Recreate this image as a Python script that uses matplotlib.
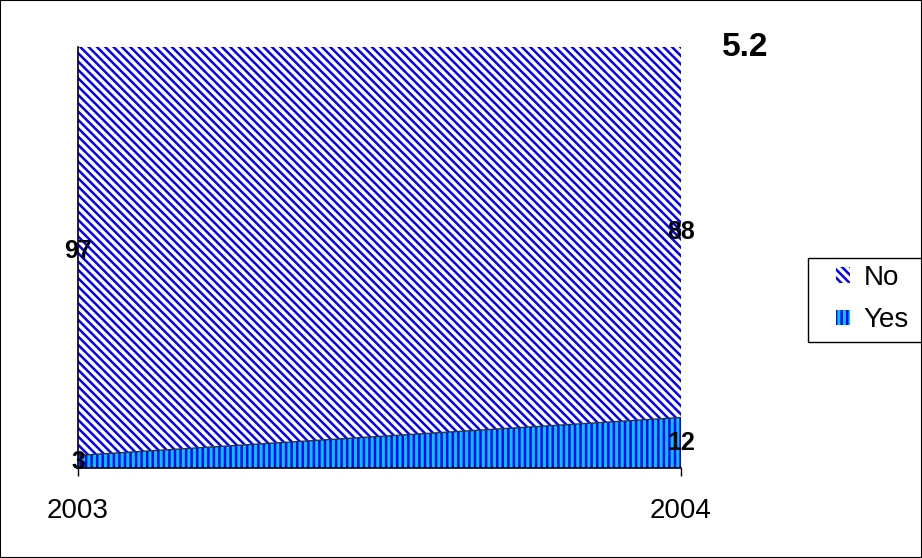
import matplotlib.pyplot as plt
import matplotlib.patches as mpatches

plt.rcParams['font.family'] = ['Liberation Sans', 'DejaVu Sans']

years = [2003, 2004]
yes_vals = [3, 12]
no_vals = [97, 88]
title = "5.2"

fig = plt.figure(figsize=(9.22, 5.58), dpi=100)
ax = fig.add_axes([78 / 922, 1 - 468 / 558, (681 - 78) / 922, (468 - 47) / 558])

yes_top = yes_vals
no_top = [y + n for y, n in zip(yes_vals, no_vals)]

# stacked 100% areas
plt.rcParams['hatch.linewidth'] = 1.8
ax.fill_between(years, 0, yes_top, facecolor='#00c8ff', edgecolor='#0000ff',
                hatch='|||', linewidth=0, label='Yes')
ax.fill_between(years, yes_top, no_top, facecolor='white', edgecolor='#0000ff',
                hatch='\\\\\\\\', linewidth=0, label='No')
ax.plot(years, yes_top, color='#333333', lw=1)

# data labels, centred in each band at the edges
for x, y, n in zip(years, yes_vals, no_vals):
    ax.text(x, y / 2, str(y), ha='center', va='center', fontsize=18,
            fontweight='bold', zorder=5)
    ax.text(x, y + n / 2, str(n), ha='center', va='center', fontsize=18,
            fontweight='bold', zorder=5)

ax.set_xlim(years[0], years[-1])
ax.set_ylim(0, 100)
ax.set_xticks(years)
ax.set_xticklabels([str(y) for y in years], fontsize=20)
ax.set_yticks([])
ax.tick_params(axis='x', direction='out', length=6, width=1, pad=15.5)
for s in ['top', 'right']:
    ax.spines[s].set_visible(False)
ax.spines['left'].set_linewidth(1.2)
ax.spines['bottom'].set_linewidth(1.2)

fig.text(745 / 922, 1 - 47 / 558, title, ha='center', va='center',
         fontsize=24, fontweight='bold')

# legend box runs off the right edge
fig.patches.append(mpatches.Rectangle((808 / 922, 1 - 342 / 558), 0.2, 84 / 558,
                                      transform=fig.transFigure, facecolor='white',
                                      edgecolor='black', lw=1, zorder=0))
handles, labels = ax.get_legend_handles_labels()
leg = fig.legend(handles[::-1], labels[::-1], loc='center left',
                 bbox_to_anchor=(836 / 922, 1 - 299 / 558), fontsize=20,
                 frameon=False, handlelength=0.5, handleheight=0.5,
                 handletextpad=0.5, borderaxespad=0, borderpad=0,
                 labelspacing=0.6)

fig.patches.append(mpatches.Rectangle((0, 0), 1, 1, transform=fig.transFigure,
                                      fill=False, edgecolor='black', lw=1.5))

fig.savefig('out.png', dpi=100)
